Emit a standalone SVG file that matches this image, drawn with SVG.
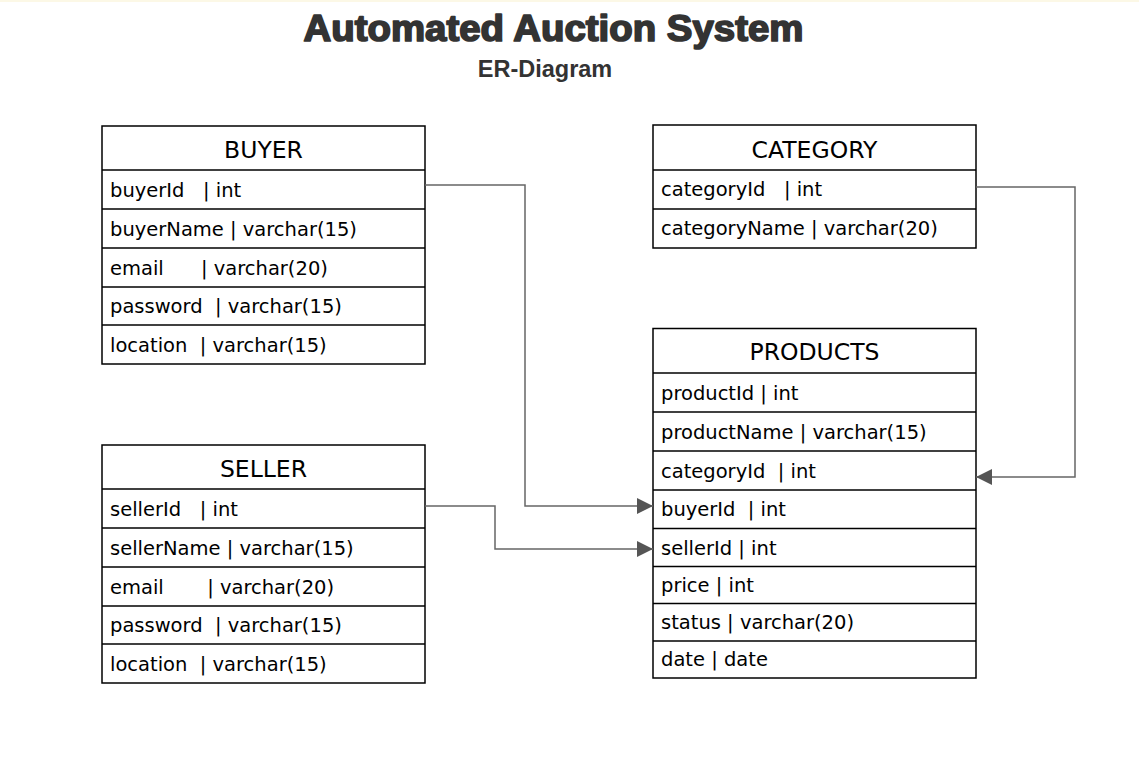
<svg xmlns="http://www.w3.org/2000/svg" width="1139" height="778" viewBox="0 0 1139 778">
<style>
.box{fill:#fff;stroke:#000;stroke-width:1.5}
.sep{stroke:#000;stroke-width:1.5}
.hd{font-family:"DejaVu Sans",Verdana,sans-serif;font-size:23.5px;fill:#000;text-anchor:middle}
.rw{font-family:"DejaVu Sans",Verdana,sans-serif;font-size:19.5px;fill:#000;white-space:pre}
.con{fill:none;stroke:#666;stroke-width:1.5}
.title{font-family:"Liberation Sans",Arial,sans-serif;font-weight:bold;fill:#333;text-anchor:middle}
</style>
<defs>
<marker id="arr" markerUnits="userSpaceOnUse" markerWidth="16" markerHeight="16" refX="16" refY="8" orient="auto">
<path d="M0,0 L16,8 L0,16 Z" fill="#555"/>
</marker>
</defs>
<rect x="0" y="0" width="1139" height="778" fill="#fff"/>
<rect x="0" y="0" width="1139" height="2" fill="#fcf8e6"/>
<g id="title">
<text class="title" x="553.5" y="41" font-size="36" stroke="#333" stroke-width="1.7" stroke-linejoin="round" textLength="500" lengthAdjust="spacingAndGlyphs">Automated Auction System</text>
<text class="title" x="545" y="77" font-size="23.5">ER-Diagram</text>
</g>
<g id="buyer">
<rect class="box" x="102" y="126" width="323" height="238"/>
<line class="sep" x1="102" y1="170" x2="425" y2="170"/>
<line class="sep" x1="102" y1="209" x2="425" y2="209"/>
<line class="sep" x1="102" y1="248" x2="425" y2="248"/>
<line class="sep" x1="102" y1="287" x2="425" y2="287"/>
<line class="sep" x1="102" y1="325" x2="425" y2="325"/>
<text class="hd" x="263.5" y="158">BUYER</text>
<text class="rw" x="110" y="196.5">buyerId   | int</text>
<text class="rw" x="110" y="235.5">buyerName | varchar(15)</text>
<text class="rw" x="110" y="274.5">email      | varchar(20)</text>
<text class="rw" x="110" y="313">password  | varchar(15)</text>
<text class="rw" x="110" y="351.5">location  | varchar(15)</text>
</g>
<g id="seller">
<rect class="box" x="102" y="445" width="323" height="238"/>
<line class="sep" x1="102" y1="489" x2="425" y2="489"/>
<line class="sep" x1="102" y1="528" x2="425" y2="528"/>
<line class="sep" x1="102" y1="567" x2="425" y2="567"/>
<line class="sep" x1="102" y1="606" x2="425" y2="606"/>
<line class="sep" x1="102" y1="644" x2="425" y2="644"/>
<text class="hd" x="263.5" y="477">SELLER</text>
<text class="rw" x="110" y="515.5">sellerId   | int</text>
<text class="rw" x="110" y="554.5">sellerName | varchar(15)</text>
<text class="rw" x="110" y="593.5">email       | varchar(20)</text>
<text class="rw" x="110" y="632">password  | varchar(15)</text>
<text class="rw" x="110" y="670.5">location  | varchar(15)</text>
</g>
<g id="category">
<rect class="box" x="653" y="125" width="323" height="123"/>
<line class="sep" x1="653" y1="170" x2="976" y2="170"/>
<line class="sep" x1="653" y1="209" x2="976" y2="209"/>
<text class="hd" x="814.5" y="158">CATEGORY</text>
<text class="rw" x="661" y="196">categoryId   | int</text>
<text class="rw" x="661" y="235">categoryName | varchar(20)</text>
</g>
<g id="products">
<rect class="box" x="653" y="328.5" width="323" height="349.5"/>
<line class="sep" x1="653" y1="373" x2="976" y2="373"/>
<line class="sep" x1="653" y1="412" x2="976" y2="412"/>
<line class="sep" x1="653" y1="451" x2="976" y2="451"/>
<line class="sep" x1="653" y1="490" x2="976" y2="490"/>
<line class="sep" x1="653" y1="528.5" x2="976" y2="528.5"/>
<line class="sep" x1="653" y1="566.5" x2="976" y2="566.5"/>
<line class="sep" x1="653" y1="603.5" x2="976" y2="603.5"/>
<line class="sep" x1="653" y1="641" x2="976" y2="641"/>
<text class="hd" x="814.5" y="360">PRODUCTS</text>
<text class="rw" x="661" y="399.5">productId | int</text>
<text class="rw" x="661" y="438.5">productName | varchar(15)</text>
<text class="rw" x="661" y="477.5">categoryId  | int</text>
<text class="rw" x="661" y="516">buyerId  | int</text>
<text class="rw" x="661" y="554.5">sellerId | int</text>
<text class="rw" x="661" y="591.5">price | int</text>
<text class="rw" x="661" y="628.5">status | varchar(20)</text>
<text class="rw" x="661" y="666">date | date</text>
</g>
<g id="connectors">
<polyline class="con" points="425,185 525,185 525,506 653,506" marker-end="url(#arr)"/>
<polyline class="con" points="425,506 495,506 495,549 653,549" marker-end="url(#arr)"/>
<polyline class="con" points="976,187 1075,187 1075,477 976,477" marker-end="url(#arr)"/>
</g>
</svg>
